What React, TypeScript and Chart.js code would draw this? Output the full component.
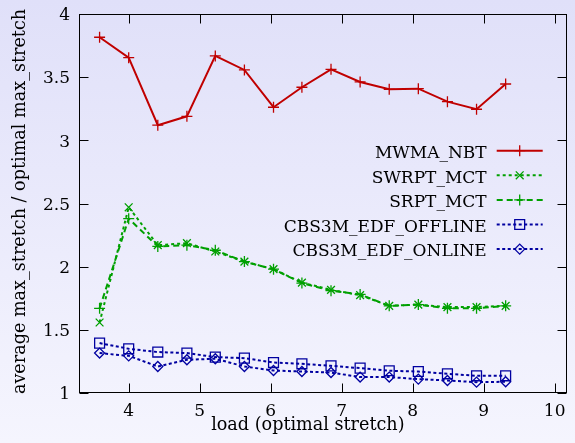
import React, { useEffect, useRef } from "react";
import { Chart, registerables } from "chart.js";
import { drawPoint } from "chart.js/helpers";

Chart.register(...registerables);

const loads = [3.59, 4.0, 4.41, 4.82, 5.22, 5.63, 6.04, 6.44, 6.85, 7.26, 7.67, 8.08, 8.49, 8.9, 9.31];
const mwmaNbt = [3.816, 3.654, 3.12, 3.19, 3.668, 3.557, 3.262, 3.42, 3.562, 3.462, 3.404, 3.409, 3.306, 3.246, 3.446];
const swrptMct = [1.558, 2.47, 2.17, 2.186, 2.12, 2.04, 1.98, 1.874, 1.816, 1.775, 1.69, 1.7, 1.68, 1.68, 1.69];
const srptMct = [1.67, 2.38, 2.16, 2.17, 2.13, 2.04, 1.98, 1.87, 1.81, 1.78, 1.69, 1.7, 1.67, 1.67, 1.69];
const cbsOffline = [1.395, 1.35, 1.324, 1.316, 1.284, 1.276, 1.241, 1.231, 1.215, 1.197, 1.176, 1.17, 1.152, 1.136, 1.136];
const cbsOnline = [1.316, 1.294, 1.21, 1.263, 1.271, 1.21, 1.178, 1.17, 1.162, 1.126, 1.126, 1.11, 1.099, 1.086, 1.089];

const seriesNames = ["MWMA_NBT", "SWRPT_MCT", "SRPT_MCT", "CBS3M_EDF_OFFLINE", "CBS3M_EDF_ONLINE"];
const xTicks = [4, 5, 6, 7, 8, 9, 10];
const yTicks = [1, 1.5, 2, 2.5, 3, 3.5, 4];
const xTickLabels = ["4", "5", "6", "7", "8", "9", "10"];
const yTickLabels = ["1", "1.5", "2", "2.5", "3", "3.5", "4"];
const xTitle = "load (optimal stretch)";
const yTitle = "average max_stretch / optimal max_stretch";

const FONT = "'DejaVu Serif', serif";
const FS = 17;
const TFS = 17.6;

const RED = "#c00000";
const GREEN = "#00a000";
const BLUE = "#0000a0";

function pts(ys: number[]) {
  return ys.map((v, i) => ({ x: loads[i], y: v }));
}

const gpPlugin = {
  id: "gp",
  afterDraw(chart: any) {
    const { ctx, chartArea: a, scales } = chart;
    const xs = scales.x;
    const ys = scales.y;
    ctx.save();
    ctx.strokeStyle = "#000";
    ctx.lineWidth = 1;
    const L = Math.round(a.left) + 0.5;
    const R = Math.round(a.right) - 0.5;
    const T = Math.round(a.top) + 0.5;
    const B = Math.round(a.bottom) - 0.5;
    ctx.strokeRect(L, T, R - L, B - T);
    const tl = 9;
    ctx.beginPath();
    xTicks.forEach((v) => {
      const px = Math.round(xs.getPixelForValue(v)) + 0.5;
      ctx.moveTo(px, B);
      ctx.lineTo(px, B - tl);
      ctx.moveTo(px, T);
      ctx.lineTo(px, T + tl);
    });
    yTicks.forEach((v) => {
      const py = Math.round(ys.getPixelForValue(v)) + 0.5;
      ctx.moveTo(L, py);
      ctx.lineTo(L + tl, py);
      ctx.moveTo(R, py);
      ctx.lineTo(R - tl, py);
    });
    ctx.stroke();

    // tick labels
    ctx.fillStyle = "#000";
    ctx.font = `${FS}px ${FONT}`;
    ctx.textBaseline = "alphabetic";
    ctx.textAlign = "center";
    xTicks.forEach((v, i) => {
      ctx.fillText(xTickLabels[i], xs.getPixelForValue(v), a.bottom + 23);
    });
    ctx.textAlign = "right";
    yTicks.forEach((v, i) => {
      ctx.fillText(yTickLabels[i], a.left - 9, ys.getPixelForValue(v) + 6.2);
    });

    // axis titles
    ctx.font = `${TFS}px ${FONT}`;
    ctx.textAlign = "center";
    ctx.fillText(xTitle, a.left + (a.right - a.left) / 2 - 15, a.bottom + 37);
    ctx.save();
    ctx.translate(25, (a.top + a.bottom) / 2 - 2);
    ctx.rotate(-Math.PI / 2);
    ctx.fillText(yTitle, 0, 0);
    ctx.restore();

    // legend
    const textRight = a.right - 80;
    const lx0 = a.right - 70;
    const lx1 = a.right - 24;
    const y0 = a.top + 136.7;
    const dy = 24.6;
    chart.data.datasets.forEach((ds: any, i: number) => {
      const yy = y0 + i * dy;
      ctx.fillStyle = "#000";
      ctx.font = `${FS}px ${FONT}`;
      ctx.textAlign = "right";
      ctx.textBaseline = "alphabetic";
      ctx.fillText(ds.label, textRight, yy + 7.3);
      ctx.strokeStyle = ds.borderColor;
      ctx.lineWidth = ds.borderWidth;
      ctx.setLineDash(ds.borderDash || []);
      ctx.beginPath();
      ctx.moveTo(lx0, yy);
      ctx.lineTo(lx1, yy);
      ctx.stroke();
      ctx.setLineDash([]);
      ctx.fillStyle = "rgba(0,0,0,0)";
      ctx.lineWidth = ds.pointBorderWidth;
      drawPoint(ctx, { pointStyle: ds.pointStyle, radius: ds.pointRadius, rotation: 0, borderWidth: ds.pointBorderWidth } as any, (lx0 + lx1) / 2, yy);
    });
    ctx.restore();
  },
};

export default function App() {
  const ref = useRef<HTMLCanvasElement>(null);
  useEffect(() => {
    if (!ref.current) return;
    const mk = (label: string, data: number[], color: string, dash: number[], style: string, r: number) => ({
      label,
      data: pts(data),
      borderColor: color,
      backgroundColor: "transparent",
      borderWidth: 2,
      borderDash: dash,
      pointStyle: style,
      pointRadius: r,
      pointBorderWidth: 1.3,
      pointBorderColor: color,
      pointBackgroundColor: "transparent",
      tension: 0,
      fill: false,
    });
    const datasets = [
      mk(seriesNames[0], mwmaNbt, RED, [], "cross", 5.5),
      mk(seriesNames[1], swrptMct, GREEN, [3, 3], "crossRot", 5.5),
      mk(seriesNames[2], srptMct, GREEN, [6, 4], "cross", 5.5),
      mk(seriesNames[3], cbsOffline, BLUE, [3, 2.5], "rect", 7),
      mk(seriesNames[4], cbsOnline, BLUE, [3, 2.5], "rectRot", 5),
    ];
    const chart = new Chart(ref.current, {
      type: "line",
      data: { datasets: datasets as any },
      options: {
        animation: false,
        responsive: false,
        devicePixelRatio: 1,
        layout: { padding: { top: 14, right: 3, left: 0, bottom: 0 } },
        plugins: { legend: { display: false }, tooltip: { enabled: false } },
        scales: {
          x: {
            type: "linear",
            min: 3.3,
            max: 10.17,
            afterFit: (s: any) => { s.height = 50; },
            afterBuildTicks: (s: any) => { s.ticks = xTicks.map((v) => ({ value: v })); },
            grid: { display: false, drawTicks: false },
            border: { display: false },
            ticks: { display: false },
            title: { display: false },
          },
          y: {
            type: "linear",
            min: 1,
            max: 4,
            afterFit: (s: any) => { s.width = 79; },
            afterBuildTicks: (s: any) => { s.ticks = yTicks.map((v) => ({ value: v })); },
            grid: { display: false, drawTicks: false },
            border: { display: false },
            ticks: { display: false },
            title: { display: false },
          },
        },
      },
      plugins: [gpPlugin as any],
    });
    return () => chart.destroy();
  }, []);
  return (
    <div
      style={{
        position: "absolute",
        left: 0,
        top: 0,
        width: 575,
        height: 443,
        background: "linear-gradient(to bottom, #e0e0f9, #f5f5fe)",
      }}
    >
      <canvas ref={ref} width={575} height={443} style={{ display: "block", width: 575, height: 443 }} />
    </div>
  );
}
